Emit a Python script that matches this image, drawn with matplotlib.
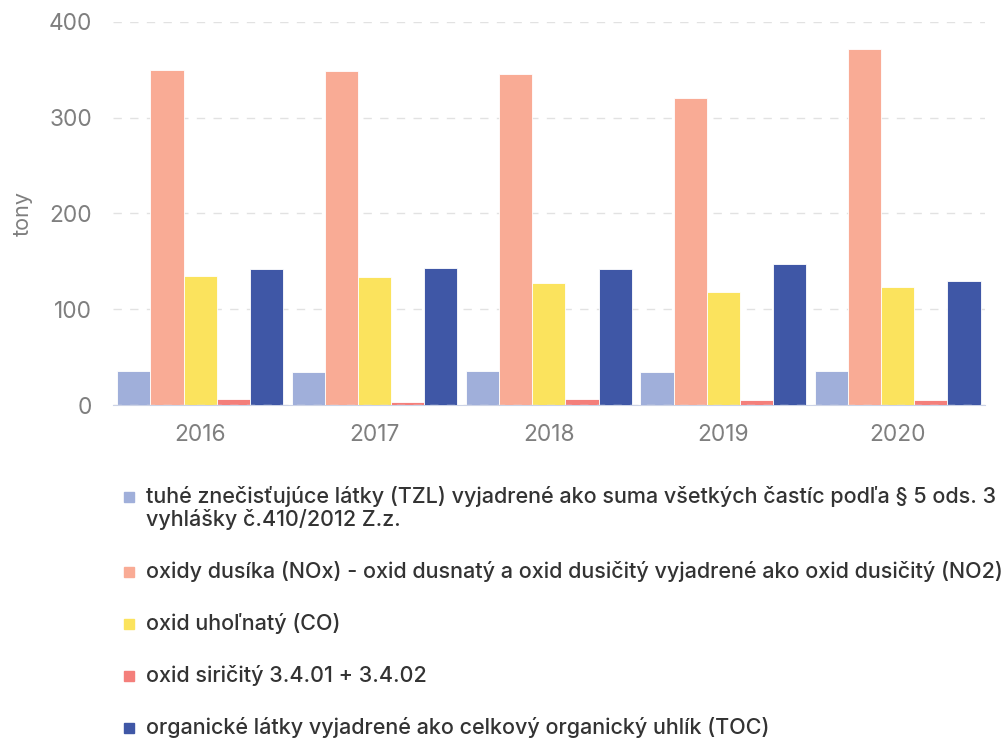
import matplotlib
matplotlib.use("Agg")
import matplotlib.pyplot as plt
import numpy as np
from matplotlib.patches import Rectangle

plt.rcParams['font.family'] = ['Inter', 'DejaVu Sans']

years = ["2016", "2017", "2018", "2019", "2020"]
series_names = [
    "tuhé znečisťujúce látky (TZL) vyjadrené ako suma všetkých častíc podľa § 5 ods. 3\nvyhlášky č.410/2012 Z.z.",
    "oxidy dusíka (NOx) - oxid dusnatý a oxid dusičitý vyjadrené ako oxid dusičitý (NO2)",
    "oxid uhoľnatý (CO)",
    "oxid siričitý 3.4.01 + 3.4.02",
    "organické látky vyjadrené ako celkový organický uhlík (TOC)",
]
tzl = [35.5, 34.5, 35.5, 34.5, 35.5]
nox = [350, 349, 346, 320.5, 372]
co = [134.5, 134, 127, 118, 123]
so2 = [6, 3, 6, 5, 5]
toc = [142, 143, 142, 147, 129.5]
series_values = [tzl, nox, co, so2, toc]
colors = ["#a0afda", "#f9ab95", "#fbe35d", "#f47f7b", "#3f57a6"]
y_ticks = [0, 100, 200, 300, 400]

fig = plt.figure(figsize=(10.06, 7.40), dpi=100)
ax = fig.add_axes([0.1123, 0.4527, 0.8667, 0.5176])

n = len(series_values)
x = np.arange(len(years))
group_w = 0.95
bar_w = group_w / n
for i, (vals, col) in enumerate(zip(series_values, colors)):
    offs = (i - (n - 1) / 2) * bar_w
    ax.bar(x + offs, vals, width=bar_w, color=col, edgecolor="white",
           linewidth=0.6, zorder=2)

ax.set_xlim(-0.5, len(years) - 0.5)
ax.set_ylim(0, 400)
ax.set_yticks(y_ticks)
ax.set_xticks(x)
ax.set_xticklabels(years)
ax.tick_params(axis="both", length=0, labelsize=16.3, labelcolor="#7f7f7f")
ax.tick_params(axis="x", pad=14)
ax.tick_params(axis="y", pad=15)
for t in y_ticks:
    ax.axhline(t, color="#e2e2e2", linewidth=1, linestyle=(0, (6, 6)),
               zorder=3 if t == 0 else 1)
for s in ["top", "right", "left"]:
    ax.spines[s].set_visible(False)
ax.spines["bottom"].set_color("#ccd3e6")
ax.spines["bottom"].set_zorder(1)
ax.set_ylabel("tony", fontsize=15.5, color="#7f7f7f")
ax.yaxis.set_label_coords(-0.092, 0.5)

# legend below the plot
y_px = [497, 572, 624, 676, 728]
for name, col, yp in zip(series_names, colors, y_px):
    yf = 1 - yp / 740
    fig.patches.append(Rectangle((124 / 1006, yf - 5 / 740), 10 / 1006, 10 / 740,
                                 transform=fig.transFigure, color=col))
    if "\n" in name:
        fig.text(146 / 1006, yf + 11 / 740, name, fontsize=15.5, color="#333333",
                 weight="medium", va="top", linespacing=1.12)
    else:
        fig.text(146 / 1006, yf, name, fontsize=15.5, color="#333333",
                 weight="medium", va="center")

fig.savefig("out.png", dpi=100)
